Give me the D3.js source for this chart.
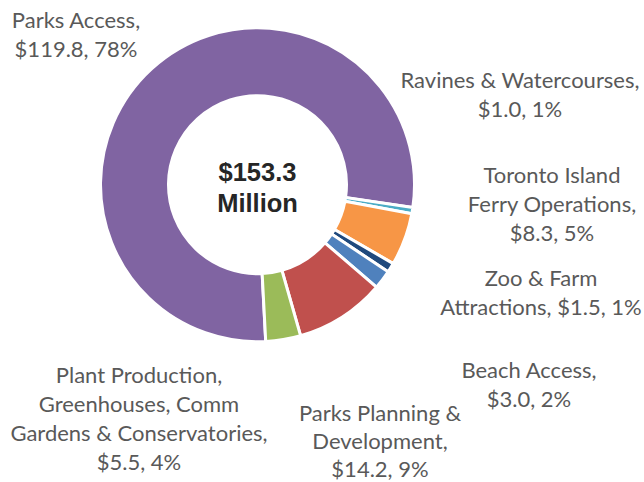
<!DOCTYPE html>
<html><head><meta charset="utf-8">
<script src="https://cdn.jsdelivr.net/npm/d3@7"></script>
<style>html,body{margin:0;padding:0;background:#fff;}svg{display:block;}</style>
</head><body>
<svg id="chart" width="644" height="482"></svg>
<script>
const categories = ["Parks Access", "Ravines & Watercourses", "Toronto Island Ferry Operations", "Zoo & Farm Attractions", "Beach Access", "Parks Planning & Development", "Plant Production, Greenhouses, Comm Gardens & Conservatories"];
const values = [119.8, 1.0, 8.3, 1.5, 3.0, 14.2, 5.5];
const percents = ["78%", "1%", "5%", "1%", "2%", "9%", "4%"];
const labelLines = [
  ["Parks Access,", "$119.8, 78%"],
  ["Ravines & Watercourses,", "$1.0, 1%"],
  ["Toronto Island", "Ferry Operations,", "$8.3, 5%"],
  ["Zoo & Farm", "Attractions, $1.5, 1%"],
  ["Beach Access,", "$3.0, 2%"],
  ["Parks Planning &", "Development,", "$14.2, 9%"],
  ["Plant Production,", "Greenhouses, Comm", "Gardens & Conservatories,", "$5.5, 4%"]
];
const totalLabel = ["$153.3", "Million"];

// layout (not data)
const colors = ["#8064A2", "#4BACC6", "#F79646", "#1F497D", "#4F81BD", "#C0504D", "#9BBB59"];
const labelAnchors = [[76, 20], [520, 80], [552, 175], [541, 278], [529, 370], [380, 413], [139, 375]];
const cx = 257.5, cy = 184.7, rOuter = 157, rInner = 89;
const startDeg = 177;
const lineH = 29;

const svg = d3.select("#chart");
const g = svg.append("g").attr("transform", `translate(${cx},${cy})`);

const pie = d3.pie().sort(null).value(d => d)
  .startAngle(startDeg * Math.PI / 180)
  .endAngle((startDeg + 360) * Math.PI / 180);
const arc = d3.arc().innerRadius(rInner).outerRadius(rOuter);

g.selectAll("path").data(pie(values)).join("path")
  .attr("d", arc)
  .attr("fill", (d, i) => colors[i])
  .attr("stroke", "#fff")
  .attr("stroke-width", 3)
  .attr("stroke-linejoin", "miter");

// center text
const ct = g.append("text").attr("text-anchor", "middle")
  .attr("font-family", "Liberation Sans, Arial, sans-serif")
  .attr("font-weight", "bold").attr("font-size", 25.5).attr("fill", "#262626");
totalLabel.forEach((t, i) => ct.append("tspan").attr("x", 0).attr("y", -3.7 + i * 31.5).text(t));

// labels
labelLines.forEach((lines, i) => {
  const [x, y] = labelAnchors[i];
  const lh = i === 5 ? 28 : lineH;
  const t = svg.append("text").attr("text-anchor", "middle")
    .attr("font-family", "Lato, Carlito, Calibri, sans-serif")
    .attr("font-size", 22).attr("fill", "#595959");
  lines.forEach((l, j) => t.append("tspan").attr("x", x).attr("y", y + 7.5 + j * lh).text(l));
});
</script>
</body></html>
